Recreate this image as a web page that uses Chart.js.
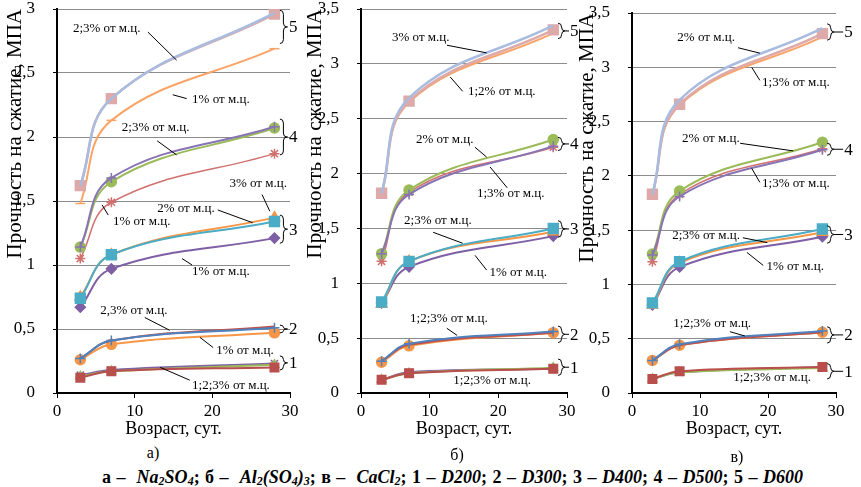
<!DOCTYPE html>
<html>
<head>
<meta charset="utf-8">
<script src="https://cdn.jsdelivr.net/npm/chart.js@4.4.1/dist/chart.umd.min.js"></script>
<style>
body { margin: 0; background: #fff; }
#wrap { position: relative; width: 861px; height: 487px; overflow: hidden; font-family: "Liberation Serif", serif; color: #000; }
canvas { position: absolute; top: 0; }
.sub { position: absolute; font-size: 16px; line-height: 16px; transform: translateX(-50%); }
#caption { position: absolute; top: 468px; left: 22px; width: 861px; text-align: center; font-weight: bold; font-size: 18px; line-height: 18px; word-spacing: 1px; }
#caption sub { font-size: 12px; vertical-align: -2px; line-height: 0; }
</style>
</head>
<body>
<div id="wrap">
  <canvas id="chartA" width="312" height="440" style="left:0px"></canvas>
  <canvas id="chartB" width="292" height="440" style="left:300px"></canvas>
  <canvas id="chartC" width="289" height="440" style="left:572px"></canvas>
  <div class="sub" style="left:153px;top:445px">а)</div>
  <div class="sub" style="left:457px;top:447px">б)</div>
  <div class="sub" style="left:737px;top:449px">в)</div>
  <div id="caption">а – &nbsp;<i>Na<sub>2</sub>SO<sub>4</sub></i>; б – &nbsp;<i>Al<sub>2</sub>(SO<sub>4</sub>)<sub>3</sub></i>; в – &nbsp;<i>CaCl<sub>2</sub></i>; 1 – <i>D200</i>; 2 – <i>D300</i>; 3 – <i>D400</i>; 4 – <i>D500</i>; 5 – <i>D600</i></div>
</div>
<script>
// age, days
const days = [3, 7, 28];

// а – Na2SO4 (each group: three additive contents)
const naD600 = [[1.62, 2.30, 2.97], [1.62, 2.30, 2.96], [1.48, 2.13, 2.69]];
const naD500 = [[1.14, 1.68, 2.08], [1.14, 1.65, 2.07], [1.05, 1.49, 1.87]];
const naD400 = [[0.74, 1.08, 1.34], [0.75, 1.08, 1.37], [0.67, 0.97, 1.21]];
const naD300 = [[0.27, 0.41, 0.51], [0.27, 0.41, 0.52], [0.26, 0.38, 0.47]];
const naD200 = [[0.12, 0.17, 0.20], [0.13, 0.17, 0.22], [0.14, 0.18, 0.23]];

// б – Al2(SO4)3
const alD600 = [[1.82, 2.69, 3.35], [1.82, 2.66, 3.31], [1.82, 2.65, 3.28]];
const alD500 = [[1.27, 1.81, 2.25], [1.27, 1.85, 2.31], [1.20, 1.83, 2.24]];
const alD400 = [[0.83, 1.20, 1.50], [0.81, 1.20, 1.47], [0.82, 1.15, 1.43]];
const alD300 = [[0.29, 0.45, 0.56], [0.29, 0.44, 0.55], [0.28, 0.43, 0.55]];
const alD200 = [[0.12, 0.18, 0.22], [0.12, 0.18, 0.23], [0.12, 0.19, 0.22]];

// в – CaCl2
const caD600 = [[1.83, 2.70, 3.36], [1.83, 2.66, 3.31], [1.83, 2.65, 3.28]];
const caD500 = [[1.27, 1.81, 2.24], [1.28, 1.86, 2.31], [1.21, 1.83, 2.25]];
const caD400 = [[0.83, 1.21, 1.51], [0.81, 1.20, 1.48], [0.81, 1.16, 1.44]];
const caD300 = [[0.30, 0.45, 0.57], [0.30, 0.44, 0.56], [0.30, 0.44, 0.56]];
const caD200 = [[0.13, 0.20, 0.24], [0.13, 0.19, 0.23], [0.13, 0.19, 0.24]];

const xTicks = [0, 10, 20, 30];

// text labels: [text, x, y, leader x1, y1, x2, y2] in data units
const notesA = [
  ['2;3% от м.ц.', 6.4, 2.85, 11.7, 2.82, 15.4, 2.60],
  ['1% от м.ц.', 21.1, 2.29, 14.9, 2.33, 16.7, 2.30],
  ['2;3% от м.ц.', 12.7, 2.07, 12.9, 1.97, 15.4, 1.86],
  ['3% от м.ц.', 25.9, 1.64, 26.4, 1.55, 27.4, 1.42],
  ['1% от м.ц.', 10.9, 1.34, 5.8, 1.47, 6.6, 1.39],
  ['2% от м.ц.', 16.6, 1.44, 20.7, 1.43, 25.2, 1.33],
  ['1% от м.ц.', 21.1, 0.95, 16.1, 1.05, 17.4, 1.00],
  ['2,3% от м.ц.', 9.9, 0.645, 11.3, 0.59, 14.5, 0.49],
  ['1% от м.ц.', 24.2, 0.33, 18.4, 0.435, 20.1, 0.355],
  ['1;2;3% от м.ц.', 22.4, 0.06, 13.3, 0.20, 17.1, 0.10]
];
const notesB = [
  ['3% от м.ц.', 8.7, 3.24, 12.5, 3.17, 18.3, 3.10],
  ['1;2% от м.ц.', 20.5, 2.75, 13.0, 2.88, 14.8, 2.75],
  ['2% от м.ц.', 12.2, 2.31, 16.6, 2.24, 18.3, 2.15],
  ['1;3% от м.ц.', 21.8, 1.82, 18.8, 2.06, 21.3, 1.87],
  ['2;3% от м.ц.', 11.2, 1.575, 10.5, 1.465, 14.8, 1.365],
  ['1% от м.ц.', 22.9, 1.10, 16.6, 1.255, 18.3, 1.12],
  ['1;2;3% от м.ц.', 12.8, 0.68, 12.5, 0.59, 14.0, 0.525],
  ['1;2;3% от м.ц.', 19.1, 0.115]
];
const notesC = [
  ['2% от м.ц.', 10.9, 3.27, 15.6, 3.18, 18.8, 3.13],
  ['1;3% от м.ц.', 24.1, 2.86, 17.6, 3.0, 18.8, 2.88],
  ['2% от м.ц.', 11.6, 2.34, 15.9, 2.30, 23.7, 2.23],
  ['1;3% от м.ц.', 24.1, 1.93, 17.6, 2.07, 18.8, 1.94],
  ['2;3% от м.ц.', 10.9, 1.45, 16.3, 1.43, 19.9, 1.385],
  ['1% от м.ц.', 24.0, 1.16, 16.9, 1.295, 19.3, 1.175],
  ['1;2;3% от м.ц.', 11.8, 0.64, 14.4, 0.565, 16.6, 0.525],
  ['1;2;3% от м.ц.', 20.6, 0.145]
];

// group braces: [number, from, to]
const bracesA = [['5', 2.73, 2.99], ['4', 1.86, 2.14], ['3', 1.17, 1.39], ['2', 0.47, 0.53], ['1', 0.18, 0.29]];
const bracesB = [['5', 3.23, 3.37], ['4', 2.21, 2.33], ['3', 1.42, 1.57], ['2', 0.46, 0.61], ['1', 0.16, 0.31]];
const bracesC = [['5', 3.25, 3.40], ['4', 2.19, 2.30], ['3', 1.38, 1.54], ['2', 0.46, 0.61], ['1', 0.13, 0.27]];

// line looks per group, same order as the value lists
const styles = {
  D600: [{c: '#A9BCE0', p: 'circle', r: 0, w: 2.5}, {c: '#DDAAA9', p: 'rect', r: 7, w: 2.5}, {c: '#FAA468', p: 'line', r: 5, w: 2}],
  D500: [{c: '#8874B4', p: 'cross', r: 5, w: 2}, {c: '#9BBB59', p: 'circle', r: 5, w: 2}, {c: '#D0716F', p: 'star', r: 5, w: 1.5}],
  D400: [{c: '#4BACC6', p: 'rect', r: 7, w: 2}, {c: '#F79646', p: 'triangle', r: 6, w: 2}, {c: '#7E5FA6', p: 'rectRot', r: 5, w: 2}],
  D300: [{c: '#4F81BD', p: 'cross', r: 5, w: 2}, {c: '#C0504D', p: 'circle', r: 0, w: 2}, {c: '#F79646', p: 'circle', r: 5, w: 2}],
  D200: [{c: '#B94F4C', p: 'rect', r: 6, w: 2}, {c: '#9BBB59', p: 'triangle', r: 5, w: 2}, {c: '#8064A2', p: 'crossRot', r: 5, w: 2}]
};

const notesPlugin = {
  id: 'notes',
  afterDatasetsDraw(chart, args, opts) {
    const {ctx, scales: {x, y}} = chart;
    ctx.save();
    ctx.strokeStyle = '#000';
    ctx.fillStyle = '#000';
    ctx.lineWidth = 1;
    ctx.font = '13px "Liberation Serif"';
    ctx.textAlign = 'center';
    ctx.textBaseline = 'middle';
    opts.notes.forEach(n => {
      if (n.length > 3) {
        ctx.beginPath();
        ctx.moveTo(x.getPixelForValue(n[3]), y.getPixelForValue(n[4]));
        ctx.lineTo(x.getPixelForValue(n[5]), y.getPixelForValue(n[6]));
        ctx.stroke();
      }
      ctx.fillText(n[0], x.getPixelForValue(n[1]), y.getPixelForValue(n[2]));
    });
    // curly braces on the right
    ctx.font = '17px "Liberation Serif"';
    ctx.textAlign = 'left';
    const x0 = x.getPixelForValue(28.7), w = 7;
    opts.braces.forEach(b => {
      const top = y.getPixelForValue(b[2]), bot = y.getPixelForValue(b[1]);
      const mid = (top + bot) / 2, xm = x0 + w / 2, r = Math.min(4, (bot - top) / 4);
      ctx.beginPath();
      ctx.moveTo(x0, top);
      ctx.quadraticCurveTo(xm, top, xm, top + r);
      ctx.lineTo(xm, mid - r);
      ctx.quadraticCurveTo(xm, mid, x0 + w, mid);
      ctx.quadraticCurveTo(xm, mid, xm, mid + r);
      ctx.lineTo(xm, bot - r);
      ctx.quadraticCurveTo(xm, bot, x0, bot);
      ctx.moveTo(x0 + w, mid);
      ctx.lineTo(x0 + w + opts.dash, mid);
      ctx.stroke();
      ctx.fillText(b[0], x0 + w + opts.dash + 1, mid + 1);
    });
    ctx.restore();
  }
};

function groupSets(groups) {
  const sets = [];
  Object.keys(groups).forEach(key => {
    groups[key].forEach((vals, i) => {
      const s = styles[key][i];
      sets.push({
        data: days.map((d, k) => ({x: d, y: vals[k]})),
        borderColor: s.c,
        backgroundColor: s.c,
        borderWidth: s.w,
        pointStyle: s.p,
        pointRadius: s.r,
        pointBorderWidth: 1.5,
        tension: 0.4
      });
    });
  });
  return sets;
}

function makePanel(id, groups, yMax, axisW, rightPad, topPad, notes, braces, dash) {
  new Chart(document.getElementById(id), {
    type: 'line',
    data: {datasets: groupSets(groups)},
    options: {
      responsive: false,
      animation: false,
      layout: {padding: {top: topPad, right: rightPad, left: 0, bottom: 0}},
      plugins: {
        legend: {display: false},
        tooltip: {enabled: false},
        notes: {notes: notes, braces: braces, dash: dash}
      },
      scales: {
        x: {
          type: 'linear', min: 0, max: 30,
          afterBuildTicks: s => { s.ticks = xTicks.map(v => ({value: v})); },
          ticks: {color: '#000', font: {family: 'Liberation Serif', size: 17}, padding: 3, maxRotation: 0},
          grid: {drawOnChartArea: false, drawTicks: true, tickLength: 5, color: '#000'},
          border: {color: '#000', width: 2},
          title: {display: true, text: 'Возраст, сут.', color: '#000', font: {family: 'Liberation Serif', size: 18}, padding: {top: 0, bottom: 0}},
          afterFit: s => { s.height = 47; }
        },
        y: {
          min: 0, max: yMax,
          ticks: {stepSize: 0.5, color: '#000', font: {family: 'Liberation Serif', size: 17}, padding: 18,
            callback: v => String(v).replace('.', ',')},
          grid: {color: '#8c8c8c', tickColor: '#000', drawTicks: true, tickLength: 4, lineWidth: 1},
          border: {color: '#000', width: 2},
          title: {display: true, align: 'end', text: 'Прочность на сжатие, МПА', color: '#000',
            font: {family: 'Liberation Serif', size: 21}, padding: {top: 3, bottom: 0}},
          afterFit: s => { s.width = axisW; s.paddingTop = 0; s.paddingBottom = 0; }
        }
      }
    },
    plugins: [notesPlugin]
  });
}

makePanel('chartA', {D600: naD600, D500: naD500, D400: naD400, D300: naD300, D200: naD200}, 3, 57, 22, 9, notesA, bracesA, 1);
makePanel('chartB', {D600: alD600, D500: alD500, D400: alD400, D300: alD300, D200: alD200}, 3.5, 61, 25, 9, notesB, bracesB, 4);
makePanel('chartC', {D600: caD600, D500: caD500, D400: caD400, D300: caD300, D200: caD200}, 3.5, 60, 25, 13, notesC, bracesC, 9);
</script>
</body>
</html>
